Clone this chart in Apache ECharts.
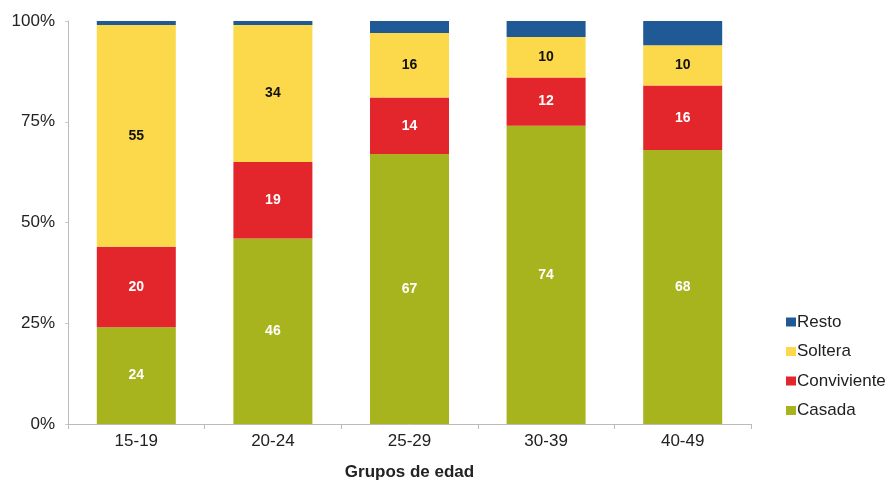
<!DOCTYPE html>
<html><head><meta charset="utf-8">
<script src="https://cdn.jsdelivr.net/npm/echarts@6/dist/echarts.min.js"></script>
<style>html,body{margin:0;padding:0;background:#fff}#c{width:895px;height:482px}</style>
</head><body><div id="c"></div>
<script>
const categories = ['15-19','20-24','25-29','30-39','40-49'];
const casada = [24, 46, 67, 74, 68];
const conviviente = [20, 19, 14, 12, 16];
const soltera = [55, 34, 16, 10, 10];
const resto = [1, 1, 3, 4, 6];
const yTicks = [0, 25, 50, 75, 100];

const chart = echarts.init(document.getElementById('c'));
const font = 'Liberation Sans, Arial, sans-serif';
function ser(name, data, color, labelColor, showLabel) {
  return {
    name, type: 'bar', stack: 'a', data, barWidth: 79,
    itemStyle: { color },
    label: { show: showLabel, position: 'inside', color: labelColor, fontWeight: 'bold', fontSize: 14, fontFamily: font },
    emphasis: { disabled: true }
  };
}
chart.setOption({
  animation: false,
  grid: { left: 68, right: 144, top: 21, bottom: 58, containLabel: false, outerBoundsMode: 'none' },
  legend: {
    orient: 'vertical', left: 781, top: 308, itemGap: 11.5,
    itemWidth: 10, itemHeight: 9, icon: 'rect',
    data: ['Resto', 'Soltera', 'Conviviente', 'Casada'],
    textStyle: { fontSize: 17, lineHeight: 18, color: '#222', fontFamily: font, padding: [0,0,0,-4] }
  },
  xAxis: {
    type: 'category', data: categories,
    name: 'Grupos de edad', nameLocation: 'middle', nameGap: 40,
    nameTextStyle: { fontWeight: 'bold', fontSize: 17, color: '#222', fontFamily: font },
    axisLine: { lineStyle: { color: '#bbb' } },
    axisTick: { show: true, lineStyle: { color: '#bbb' } },
    axisLabel: { fontSize: 17, color: '#222', margin: 9, fontFamily: font }
  },
  yAxis: {
    type: 'value', min: 0, max: 100, interval: 25,
    axisLine: { show: true, lineStyle: { color: '#bbb' } },
    axisTick: { show: true, length: 3, lineStyle: { color: '#ccc' } },
    splitLine: { show: false },
    axisLabel: { fontSize: 17, color: '#222', margin: 13, fontFamily: font,
      formatter: v => yTicks.includes(v) ? v + '%' : '' }
  },
  series: [
    ser('Casada', casada, '#a7b41d', '#fff', true),
    ser('Conviviente', conviviente, '#e3262b', '#fff', true),
    ser('Soltera', soltera, '#fcd94a', '#111', true),
    ser('Resto', resto, '#1f5a96', '#fff', false)
  ]
});
</script></body></html>
